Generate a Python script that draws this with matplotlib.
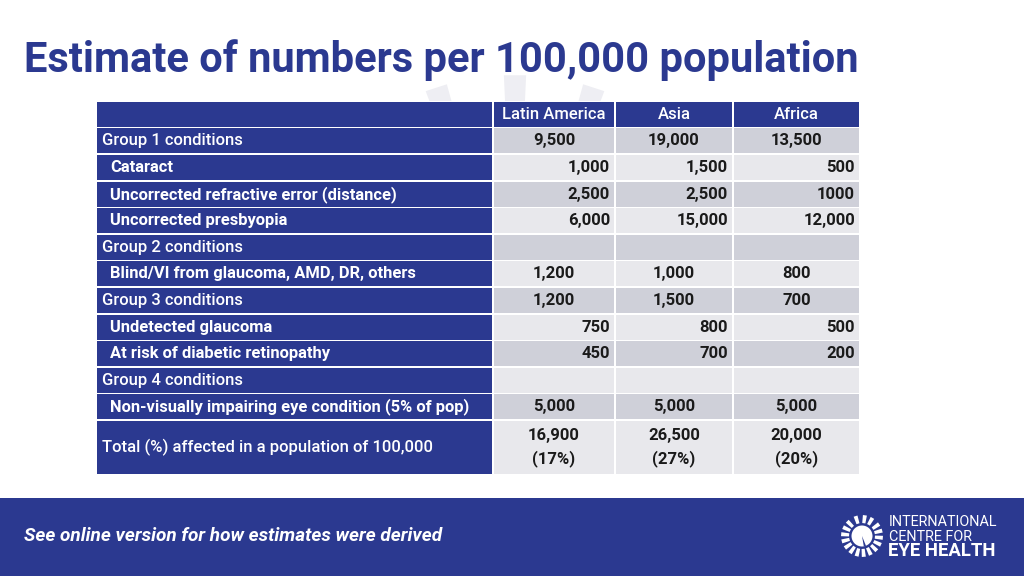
import numpy as np
import matplotlib
matplotlib.use('Agg')
import matplotlib.pyplot as plt
from matplotlib.patches import Rectangle, Circle, Polygon, Wedge

# donnees du tableau
regions = ['Latin America', 'Asia', 'Africa']
row_labels = ['Group 1 conditions',
              'Cataract',
              'Uncorrected refractive error (distance)',
              'Uncorrected presbyopia',
              'Group 2 conditions',
              'Blind/VI from glaucoma, AMD, DR, others',
              'Group 3 conditions',
              'Undetected glaucoma',
              'At risk of diabetic retinopathy',
              'Group 4 conditions',
              'Non-visually impairing eye condition (5% of pop)',
              'Total (%) affected in a population of 100,000']
is_sub = [False, True, True, True, False, True, False, True, True, False, True, False]
latin_america = ['9,500', '1,000', '2,500', '6,000', '', '1,200', '1,200', '750', '450', '', '5,000', '16,900\n(17%)']
asia = ['19,000', '1,500', '2,500', '15,000', '', '1,000', '1,500', '800', '700', '', '5,000', '26,500\n(27%)']
africa = ['13,500', '500', '1000', '12,000', '', '800', '700', '500', '200', '', '5,000', '20,000\n(20%)']
right_aligned = [False, True, True, True, False, False, False, True, True, False, False, False]

title = 'Estimate of numbers per 100,000 population'
footer = 'See online version for how estimates were derived'

BLUE = '#2b3990'
GRAY_D = '#cfd0d9'
GRAY_L = '#e8e8ec'

plt.rcParams['font.family'] = ['Roboto', 'DejaVu Sans']

fig = plt.figure(figsize=(10.24, 5.76), dpi=100)
ax = fig.add_axes([0, 0, 1, 1])
ax.set_xlim(0, 1024)
ax.set_ylim(576, 0)
ax.axis('off')


def sunburst(ax, cx, cy, r_in, r_out, color, angles, width=0.45, step=20, zorder=1, clip=None):
    # rayons du logo (angles en degres)
    for deg in angles:
        a = np.deg2rad(deg)
        w = np.deg2rad(step * width / 2)
        wi = w * 1.3 * r_out / max(r_in, 1) * 0.6
        pts = [(cx + r_in * np.cos(a - wi), cy - r_in * np.sin(a - wi)),
               (cx + r_out * np.cos(a - w), cy - r_out * np.sin(a - w)),
               (cx + r_out * np.cos(a + w), cy - r_out * np.sin(a + w)),
               (cx + r_in * np.cos(a + wi), cy - r_in * np.sin(a + wi))]
        p = Polygon(pts, closed=True, color=color, lw=0, zorder=zorder)
        ax.add_patch(p)
        if clip is not None:
            p.set_clip_path(clip)


# filigrane pale entre le titre et le tableau
clip_box = Rectangle((0, 74), 1024, 28, transform=ax.transData, visible=False)
ax.add_patch(clip_box)
sunburst(ax, 515, 330, 200, 255, '#eeeef3', [72, 90, 108], width=0.5, step=10, zorder=0, clip=clip_box)

# titre
ax.text(24, 60, title, fontsize=30, fontweight='bold', color=BLUE, va='center', ha='left', zorder=3)

# tableau
col_x = [96, 493, 615, 733, 860]
top = 101
row_h = 26.6
total_h = 55
heights = [row_h] * 12 + [total_h]
row_y = [top]
for h in heights:
    row_y.append(row_y[-1] + h)

ax.add_patch(Rectangle((col_x[0], top), col_x[-1] - col_x[0], row_y[-1] - top,
                       color='white', lw=0, zorder=1))
g = 0.8  # demi-epaisseur des lignes blanches

columns = [latin_america, asia, africa]
for r in range(13):
    y0, y1 = row_y[r] + g, row_y[r + 1] - g
    ym = (row_y[r] + row_y[r + 1]) / 2
    for c in range(4):
        x0, x1 = col_x[c] + g, col_x[c + 1] - g
        if r == 0 or c == 0:
            fc = BLUE
        else:
            fc = GRAY_D if r % 2 == 1 else GRAY_L
        ax.add_patch(Rectangle((x0, y0), x1 - x0, y1 - y0, color=fc, lw=0, zorder=2))
    if r == 0:
        for c, name in enumerate(regions):
            ax.text((col_x[c + 1] + col_x[c + 2]) / 2, ym, name, color='white', fontsize=12,
                    fontweight='medium', ha='center', va='center', zorder=3)
        continue
    i = r - 1
    lx = col_x[0] + (14 if is_sub[i] else 6)
    ax.text(lx, ym, row_labels[i], color='white', fontsize=11.85 if is_sub[i] else 12,
            fontweight='bold' if is_sub[i] else 'medium', ha='left', va='center', zorder=3)
    for c in range(3):
        val = columns[c][i]
        if val == '':
            continue
        if right_aligned[i]:
            ax.text(col_x[c + 2] - 5, ym, val, color='#1a1a1a', fontsize=12, fontweight='bold',
                    ha='right', va='center', zorder=3)
        else:
            ax.text((col_x[c + 1] + col_x[c + 2]) / 2, ym, val, color='#1a1a1a', fontsize=12,
                    fontweight='bold', ha='center', va='center', zorder=3, linespacing=1.5)

# bandeau du bas
ax.add_patch(Rectangle((0, 498), 1024, 78, color=BLUE, lw=0, zorder=1))
ax.text(24, 536, footer, color='white', fontsize=13.7, fontweight='bold', fontstyle='italic',
        ha='left', va='center', zorder=3)

# logo
ray_angles = [135, 155, 175, 195, 215, 235, 255, 275, 295, 315, 335, 355, 15, 35, 60, 82, 108]
sunburst(ax, 862, 536, 13, 21, 'white', ray_angles, width=0.55, step=20, zorder=3)
ax.add_patch(Circle((862, 536), 10.5, color='white', lw=0, zorder=3))
ax.add_patch(Wedge((862, 536), 10.6, 68, 80, color=BLUE, lw=0, zorder=4))
ax.text(889, 522, 'INTERNATIONAL', color='white', fontsize=10.4, ha='left', va='center', zorder=3)
ax.text(889, 537, 'CENTRE FOR', color='white', fontsize=10.4, ha='left', va='center', zorder=3)
ax.text(888, 551, 'EYE HEALTH', color='white', fontsize=13.3, fontweight='bold',
        ha='left', va='center', zorder=3)

fig.savefig('out.png', dpi=100)
